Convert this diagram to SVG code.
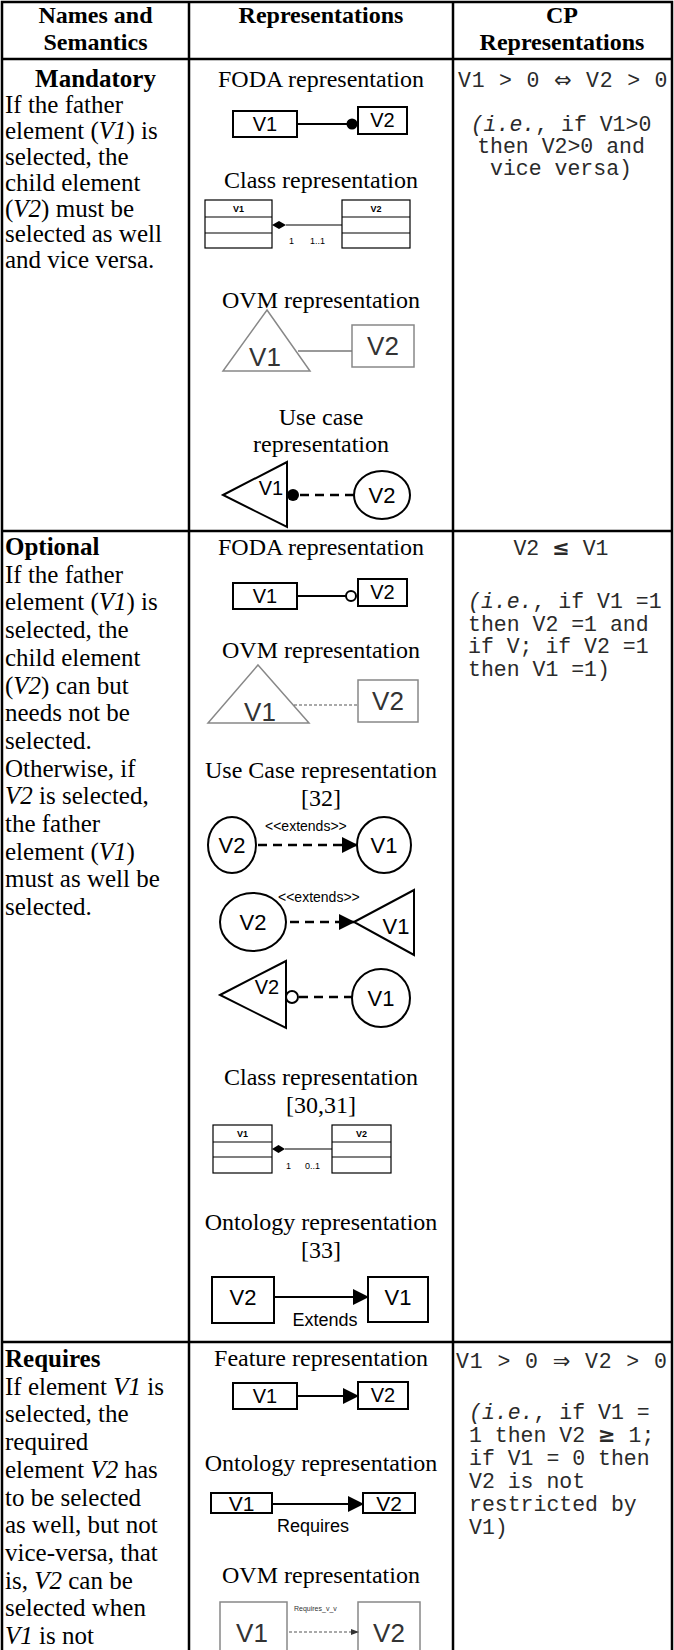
<svg xmlns="http://www.w3.org/2000/svg" width="674" height="1650" viewBox="0 0 674 1650">
<style>
.t{font-family:"Liberation Serif","Times New Roman",serif;font-size:24px;fill:#000}
.l{font-size:25px}
.b{font-weight:bold}
.i{font-style:italic}
.c{text-anchor:middle}
.m{font-family:"Liberation Mono","Courier New",monospace;font-size:21.5px;fill:#2a2a2a}
.sym{font-family:"DejaVu Sans",sans-serif;font-size:21px}
.a{font-family:"Liberation Sans",Arial,sans-serif;fill:#000}
.grid{stroke:#000;stroke-width:2.5;fill:none}
.box{fill:#fff;stroke:#000;stroke-width:2}
.thin{fill:#fff;stroke:#000;stroke-width:1.2}
.ovm{fill:#fff;stroke:#888;stroke-width:1.5}
.ln{stroke:#000;stroke-width:2;fill:none}
.dash{stroke:#000;stroke-width:2.5;fill:none;stroke-dasharray:9 6}
.gdash{stroke:#555;stroke-width:1.2;fill:none;stroke-dasharray:3 2}
.gt{fill:#333}
</style>
<defs>
<marker id="ah" markerUnits="userSpaceOnUse" markerWidth="16" markerHeight="16" refX="15" refY="8" orient="auto"><path d="M0,0 L16,8 L0,16 Z" fill="#000"/></marker>
<marker id="ahs" markerUnits="userSpaceOnUse" markerWidth="8" markerHeight="8" refX="7" refY="4" orient="auto"><path d="M0,1 L8,4 L0,7 Z" fill="#333"/></marker>
</defs>

<g id="table">
<rect x="2" y="2" width="670" height="1660" class="grid"/>
<line x1="189" y1="2" x2="189" y2="1650" class="grid"/>
<line x1="453" y1="2" x2="453" y2="1650" class="grid"/>
<line x1="2" y1="59" x2="672" y2="59" class="grid"/>
<line x1="2" y1="531" x2="672" y2="531" class="grid"/>
<line x1="2" y1="1342" x2="672" y2="1342" class="grid"/>
</g>

<g id="header">
<text class="t b c" x="95.5" y="23">Names and</text>
<text class="t b c" x="95.5" y="50">Semantics</text>
<text class="t b c" x="321" y="23">Representations</text>
<text class="t b c" x="562" y="23">CP</text>
<text class="t b c" x="562" y="50">Representations</text>
</g>

<g id="mandatory-semantics">
<text class="t l b c" x="95.5" y="87">Mandatory</text>
<text class="t l" x="5" y="112.9">If the father</text>
<text class="t l" x="5" y="138.8">element (<tspan class="i">V1</tspan>) is</text>
<text class="t l" x="5" y="164.7">selected, the</text>
<text class="t l" x="5" y="190.6">child element</text>
<text class="t l" x="5" y="216.5">(<tspan class="i">V2</tspan>) must be</text>
<text class="t l" x="5" y="242.4">selected as well</text>
<text class="t l" x="5" y="268.3">and vice versa.</text>
</g>

<g id="mandatory-cp">
<text class="m" x="458" y="87" letter-spacing="0.8">V1 &gt; 0 <tspan class="sym">⇔</tspan> V2 &gt; 0</text>
<text class="m c" x="561" y="131"><tspan class="i">(i.e.</tspan>, if V1&gt;0</text>
<text class="m c" x="561" y="153">then V2&gt;0 and</text>
<text class="m c" x="561" y="175">vice versa)</text>
</g>

<g id="mandatory-foda">
<text class="t c" x="321" y="87">FODA representation</text>
<rect x="233" y="111" width="64" height="26" class="box"/>
<text class="a c" x="265" y="131" font-size="20">V1</text>
<rect x="358" y="107" width="49" height="27" class="box"/>
<text class="a c" x="382.5" y="127" font-size="20">V2</text>
</g>

<g id="mandatory-class">
<text class="t c" x="321" y="188">Class representation</text>
<rect x="205" y="200" width="67" height="48" class="thin"/>
<line x1="205" y1="217" x2="272" y2="217" stroke="#000" stroke-width="1.2"/>
<line x1="205" y1="233" x2="272" y2="233" stroke="#000" stroke-width="1.2"/>
<text class="a b c" x="238.5" y="212" font-size="9">V1</text>
<rect x="342" y="200" width="68" height="48" class="thin"/>
<line x1="342" y1="217" x2="410" y2="217" stroke="#000" stroke-width="1.2"/>
<line x1="342" y1="233" x2="410" y2="233" stroke="#000" stroke-width="1.2"/>
<text class="a b c" x="376" y="212" font-size="9">V2</text>
<text class="a" x="289" y="244" font-size="9">1</text>
<text class="a" x="310" y="244" font-size="9">1..1</text>
</g>

<g id="mandatory-ovm">
<text class="t c" x="321" y="308">OVM representation</text>
<path d="M267,310 L310,371 L223,371 Z" class="ovm"/>
<text class="a c gt" x="265" y="366" font-size="26">V1</text>
<rect x="352" y="325" width="62" height="42" class="ovm"/>
<text class="a c gt" x="383" y="355" font-size="26">V2</text>
</g>

<g id="mandatory-usecase">
<text class="t c" x="321" y="425">Use case</text>
<text class="t c" x="321" y="452">representation</text>
<path d="M223,495 L287,462 L287,527 Z" class="box"/>
<text class="a c" x="271" y="495" font-size="20">V1</text>
<circle cx="293" cy="495" r="6" fill="#000"/>
<ellipse cx="382" cy="495" rx="28" ry="24" class="box"/>
<text class="a c" x="382" y="503" font-size="22">V2</text>
</g>

<g id="optional-semantics">
<text class="t l b" x="5" y="555">Optional</text>
<text class="t l" x="5" y="582.7">If the father</text>
<text class="t l" x="5" y="610.4">element (<tspan class="i">V1</tspan>) is</text>
<text class="t l" x="5" y="638.1">selected, the</text>
<text class="t l" x="5" y="665.8">child element</text>
<text class="t l" x="5" y="693.5">(<tspan class="i">V2</tspan>) can but</text>
<text class="t l" x="5" y="721.2">needs not be</text>
<text class="t l" x="5" y="748.9">selected.</text>
<text class="t l" x="5" y="776.6">Otherwise, if</text>
<text class="t l" x="5" y="804.3"><tspan class="i">V2</tspan> is selected,</text>
<text class="t l" x="5" y="832">the father</text>
<text class="t l" x="5" y="859.7">element (<tspan class="i">V1</tspan>)</text>
<text class="t l" x="5" y="887.4">must as well be</text>
<text class="t l" x="5" y="915.1">selected.</text>
</g>

<g id="optional-cp">
<text class="m c" x="561" y="555">V2 <tspan class="sym" font-weight="bold">≤</tspan> V1</text>
<text class="m" x="468" y="608"><tspan class="i">(i.e.</tspan>, if V1 =1</text>
<text class="m" x="468" y="630.5">then V2 =1 and</text>
<text class="m" x="468" y="653">if V; if V2 =1</text>
<text class="m" x="468" y="675.5">then V1 =1)</text>
</g>

<g id="optional-foda">
<text class="t c" x="321" y="555">FODA representation</text>
<rect x="233" y="583" width="64" height="26" class="box"/>
<text class="a c" x="265" y="603" font-size="20">V1</text>
<rect x="358" y="579" width="49" height="27" class="box"/>
<text class="a c" x="382.5" y="599" font-size="20">V2</text>
</g>

<g id="optional-ovm">
<text class="t c" x="321" y="658">OVM representation</text>
<path d="M258,665 L309,723 L208,723 Z" class="ovm"/>
<text class="a c gt" x="260" y="721" font-size="26">V1</text>
<rect x="358" y="680" width="60" height="42" class="ovm"/>
<text class="a c gt" x="388" y="710" font-size="26">V2</text>
</g>

<g id="optional-usecase">
<text class="t c" x="321" y="778">Use Case representation</text>
<text class="t c" x="321" y="806">[32]</text>
<ellipse cx="232" cy="845" rx="24" ry="28" class="box"/>
<text class="a c" x="232" y="853" font-size="22">V2</text>
<text class="a" x="265" y="831" font-size="14">&lt;&lt;extends&gt;&gt;</text>
<ellipse cx="384" cy="845" rx="27" ry="28" class="box"/>
<text class="a c" x="384" y="853" font-size="22">V1</text>

<text class="a" x="278" y="902" font-size="14">&lt;&lt;extends&gt;&gt;</text>
<ellipse cx="253" cy="922" rx="33" ry="29" class="box"/>
<text class="a c" x="253" y="930" font-size="22">V2</text>
<path d="M354,922 L414,890 L414,955 Z" class="box"/>
<text class="a c" x="396" y="934" font-size="22">V1</text>

<path d="M220,995 L286,961 L286,1028 Z" class="box"/>
<text class="a c" x="267" y="994" font-size="20">V2</text>
<circle cx="292" cy="997" r="6" fill="#fff" stroke="#000" stroke-width="2"/>
<ellipse cx="381" cy="998" rx="29" ry="29" class="box"/>
<text class="a c" x="381" y="1006" font-size="22">V1</text>
</g>

<g id="optional-class">
<text class="t c" x="321" y="1085">Class representation</text>
<text class="t c" x="321" y="1113">[30,31]</text>
<rect x="213" y="1125" width="59" height="48" class="thin"/>
<line x1="213" y1="1142" x2="272" y2="1142" stroke="#000" stroke-width="1.2"/>
<line x1="213" y1="1157" x2="272" y2="1157" stroke="#000" stroke-width="1.2"/>
<text class="a b c" x="242.5" y="1137" font-size="9">V1</text>
<rect x="332" y="1125" width="59" height="48" class="thin"/>
<line x1="332" y1="1142" x2="391" y2="1142" stroke="#000" stroke-width="1.2"/>
<line x1="332" y1="1157" x2="391" y2="1157" stroke="#000" stroke-width="1.2"/>
<text class="a b c" x="361.5" y="1137" font-size="9">V2</text>
<text class="a" x="286" y="1169" font-size="9">1</text>
<text class="a" x="305" y="1169" font-size="9">0..1</text>
</g>

<g id="optional-ontology">
<text class="t c" x="321" y="1230">Ontology representation</text>
<text class="t c" x="321" y="1258">[33]</text>
<rect x="212" y="1277" width="62" height="46" class="box"/>
<text class="a c" x="243" y="1305" font-size="22">V2</text>
<rect x="368" y="1277" width="60" height="45" class="box"/>
<text class="a c" x="398" y="1305" font-size="22">V1</text>
<text class="a c" x="325" y="1326" font-size="18">Extends</text>
</g>

<g id="requires-semantics">
<text class="t l b" x="5" y="1367">Requires</text>
<text class="t l" x="5" y="1394.7">If element <tspan class="i">V1</tspan> is</text>
<text class="t l" x="5" y="1422.4">selected, the</text>
<text class="t l" x="5" y="1450.1">required</text>
<text class="t l" x="5" y="1477.8">element <tspan class="i">V2</tspan> has</text>
<text class="t l" x="5" y="1505.5">to be selected</text>
<text class="t l" x="5" y="1533.2">as well, but not</text>
<text class="t l" x="5" y="1560.9">vice-versa, that</text>
<text class="t l" x="5" y="1588.6">is, <tspan class="i">V2</tspan> can be</text>
<text class="t l" x="5" y="1616.3">selected when</text>
<text class="t l" x="5" y="1644"><tspan class="i">V1</tspan> is not</text>
</g>

<g id="requires-cp">
<text class="m" x="456" y="1368" letter-spacing="0.9">V1 &gt; 0 <tspan class="sym">⇒</tspan> V2 &gt; 0</text>
<text class="m" x="469" y="1419"><tspan class="i">(i.e.</tspan>, if V1 =</text>
<text class="m" x="469" y="1442">1 then V2 <tspan class="sym" font-weight="bold">≥</tspan> 1;</text>
<text class="m" x="469" y="1465">if V1 = 0 then</text>
<text class="m" x="469" y="1488">V2 is not</text>
<text class="m" x="469" y="1511">restricted by</text>
<text class="m" x="469" y="1534">V1)</text>
</g>

<g id="requires-feature">
<text class="t c" x="321" y="1366">Feature representation</text>
<rect x="233" y="1383" width="64" height="26" class="box"/>
<text class="a c" x="265" y="1403" font-size="20">V1</text>
<rect x="358" y="1382" width="50" height="27" class="box"/>
<text class="a c" x="383" y="1402" font-size="20">V2</text>
</g>

<g id="requires-ontology">
<text class="t c" x="321" y="1471">Ontology representation</text>
<rect x="211" y="1493" width="61" height="20" class="box"/>
<text class="a c" x="241.5" y="1511" font-size="21">V1</text>
<rect x="363" y="1493" width="52" height="20" class="box"/>
<text class="a c" x="389" y="1511" font-size="21">V2</text>
<text class="a c" x="313" y="1532" font-size="18">Requires</text>
</g>

<g id="requires-ovm">
<text class="t c" x="321" y="1583">OVM representation</text>
<rect x="220" y="1602" width="67" height="60" class="ovm"/>
<text class="a c gt" x="252" y="1642" font-size="26">V1</text>
<rect x="358" y="1602" width="62" height="60" class="ovm"/>
<text class="a c gt" x="389" y="1642" font-size="26">V2</text>
<text class="a gt" x="294" y="1611" font-size="7">Requires_v_v</text>
</g>

<g id="connectors">
<line x1="297" y1="124" x2="347" y2="124" class="ln"/>
<circle cx="352" cy="124" r="5.5" fill="#000"/>
<path d="M272,225 L279,221 L286,225 L279,229 Z" fill="#000"/>
<line x1="286" y1="225" x2="342" y2="225" stroke="#000" stroke-width="1.2"/>
<line x1="298" y1="351" x2="352" y2="351" stroke="#777" stroke-width="1.5"/>
<line x1="300" y1="495" x2="354" y2="495" class="dash"/>

<line x1="297" y1="596" x2="346" y2="596" class="ln"/>
<circle cx="351" cy="596" r="5" fill="#fff" stroke="#000" stroke-width="2"/>
<line x1="294" y1="705" x2="358" y2="705" class="gdash"/>
<line x1="258" y1="845" x2="357" y2="845" class="dash" marker-end="url(#ah)"/>
<line x1="290" y1="922" x2="354" y2="922" class="dash" marker-end="url(#ah)"/>
<line x1="299" y1="997" x2="352" y2="997" class="dash"/>
<path d="M272,1149 L278.5,1145 L285,1149 L278.5,1153 Z" fill="#000"/>
<line x1="285" y1="1149" x2="332" y2="1149" stroke="#000" stroke-width="1.2"/>
<line x1="274" y1="1297" x2="368" y2="1297" class="ln" marker-end="url(#ah)"/>

<line x1="297" y1="1396" x2="358" y2="1396" class="ln" marker-end="url(#ah)"/>
<line x1="272" y1="1504" x2="363" y2="1504" class="ln" marker-end="url(#ah)"/>
<line x1="289" y1="1632" x2="358" y2="1632" class="gdash" marker-end="url(#ahs)"/>
</g>
</svg>
